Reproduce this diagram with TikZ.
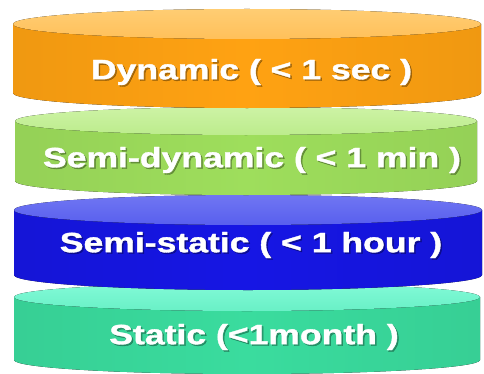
\documentclass[tikz,border=0pt]{standalone}
\usepackage{fontspec}
\setmainfont{Liberation Sans}
\newfontfamily\lblfont[FakeBold=1.2]{Liberation Sans Bold}
\definecolor{orSide}{RGB}{255,162,18}
\definecolor{orTop}{RGB}{255,205,115}
\definecolor{orTopB}{RGB}{255,192,90}
\definecolor{grSide}{RGB}{158,222,92}
\definecolor{grTop}{RGB}{205,243,165}
\definecolor{grTopB}{RGB}{188,236,140}
\definecolor{blSide}{RGB}{22,22,228}
\definecolor{blTop}{RGB}{112,118,242}
\definecolor{blTopB}{RGB}{88,95,238}
\definecolor{tlSide}{RGB}{58,220,158}
\definecolor{tlTop}{RGB}{130,250,215}
\definecolor{tlTopB}{RGB}{105,240,198}
\tikzset{
  lbl/.style={font=\lblfont\fontsize{28}{30}\selectfont, text=white, inner sep=0pt, xscale=1.27},
  lblshadow/.style={font=\lblfont\fontsize{28}{30}\selectfont, text=black, opacity=0.3, inner sep=0pt, xscale=1.27},
}
% disk: cx, rx, top center y, bottom center y, ry, side color, top color, top color back
\newcommand{\mydisk}[8]{%
  \fill[left color=#6!94!black, right color=#6!94!black, middle color=#6]
    (#1-#2,#3) -- (#1-#2,#4)
    arc[start angle=180, end angle=360, x radius=#2, y radius=#5]
    -- (#1+#2,#3) -- cycle;
  \fill[top color=#7, bottom color=#8]
    (#1,#3) ellipse[x radius=#2, y radius=#5];
}
\begin{document}
\begin{tikzpicture}[x=1pt,y=1pt]
\useasboundingbox (0,0) rectangle (484,373);
\fill[white] (0,0) rectangle (484,373);
% bottom to top
\mydisk{247}{233}{76}{13}{14}{tlSide}{tlTop}{tlTopB}
\mydisk{248}{234}{163}{98}{15}{blSide}{blTop}{blTopB}
\mydisk{246}{231}{252}{192}{14}{grSide}{grTop}{grTopB}
\mydisk{247}{234}{349}{280}{15}{orSide}{orTop}{orTopB}
% labels
\node[lblshadow] (dyns) at (253,299.5) {Dynamic ( < 1 sec )};
\node[lbl] (dyn) at (251.5,301) {Dynamic ( < 1 sec )};
\node[lblshadow] (sdyns) at (253.5,211.5) {Semi-dynamic ( < 1 min )};
\node[lbl] (sdyn) at (252,213) {Semi-dynamic ( < 1 min )};
\node[lblshadow] (sstas) at (252.5,126.5) {Semi-static ( < 1 hour )};
\node[lbl] (ssta) at (251,128) {Semi-static ( < 1 hour )};
\node[lblshadow] (stas) at (255.5,34.5) {Static (<1month )};
\node[lbl] (sta) at (254,36) {Static (<1month )};
\end{tikzpicture}
\end{document}
